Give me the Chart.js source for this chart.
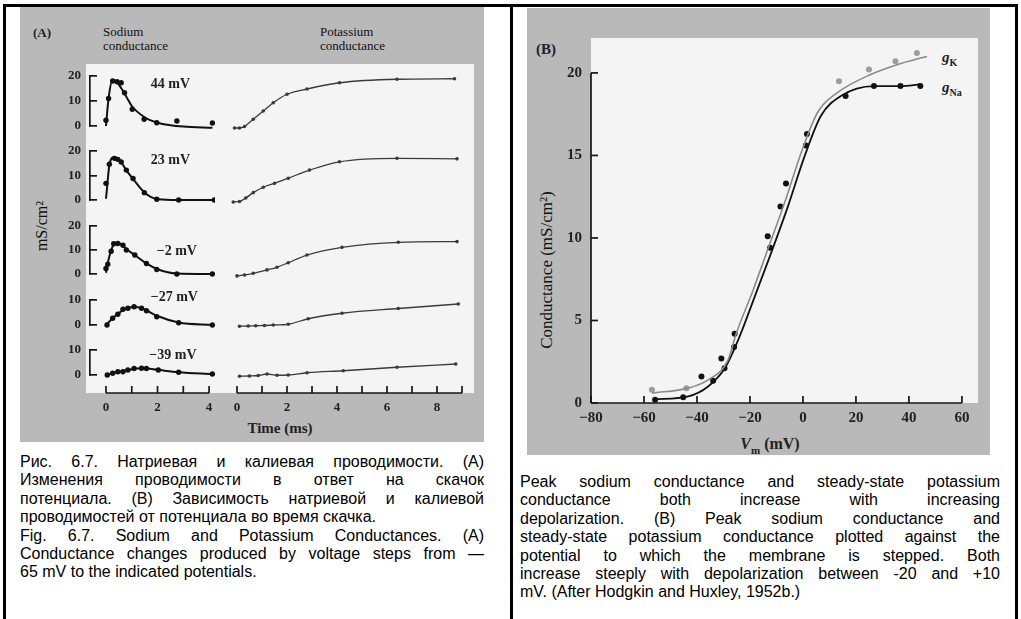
<!DOCTYPE html>
<html>
<head>
<meta charset="utf-8">
<script src="https://cdn.jsdelivr.net/npm/chart.js"></script>
<style>
    body { margin: 0; background: #fff; }
    #page { position: relative; width: 1021px; height: 619px; overflow: hidden; background: #fff; }
    .rule { position: absolute; background: #000; }
    .scan { position: absolute; background: #b9b9b9; }
    .plate { position: absolute; background: #f4f4f4; }
    .fig { position: absolute; font-family: "Liberation Serif", "DejaVu Serif", serif; color: #222; font-size: 13px; line-height: 14px; white-space: nowrap; font-weight: bold; }
    .rot { transform: translate(-50%, -50%) rotate(-90deg); }
    .mid { transform: translate(-50%, -50%); }
    .cap { position: absolute; font-family: "Liberation Sans", Arial, sans-serif; font-size: 16px; line-height: 18.4px; color: #000; }
    .cap div { white-space: nowrap; text-align: justify; text-align-last: justify; }
    .cap div.end { text-align-last: left; }
</style>
</head>
<body>
<div id="page">
    <div class="scan" style="left:20px;top:7px;width:464px;height:435px"></div>
    <div class="plate" style="left:86px;top:64px;width:388px;height:329px"></div>
    <div class="scan" style="left:527px;top:8px;width:463px;height:447px"></div>
    <div class="plate" style="left:591px;top:38px;width:387px;height:365px"></div>

    <div class="rule" style="left:3px;top:4px;width:1015px;height:3px"></div>
    <div class="rule" style="left:3px;top:4px;width:3px;height:615px"></div>
    <div class="rule" style="left:510px;top:4px;width:3px;height:615px"></div>
    <div class="rule" style="left:1015px;top:4px;width:3px;height:615px"></div>

    <div class="fig" style="left:33px;top:26px">(A)</div>
    <div class="fig" style="left:103px;top:25px;font-weight:normal;color:#111">Sodium<br>conductance</div>
    <div class="fig" style="left:320px;top:25px;font-weight:normal;color:#111">Potassium<br>conductance</div>
    <div class="fig rot" style="left:42px;top:226px;font-size:16px;font-weight:normal;color:#111">mS/cm²</div>
    <div class="fig mid" style="left:280px;top:428px;font-size:15px">Time (ms)</div>

    <div class="fig mid" style="left:546px;top:49px;font-size:15px">(B)</div>
    <div class="fig rot" style="left:547px;top:270px;font-size:17px;font-weight:normal;color:#111">Conductance (mS/cm²)</div>
    <div class="fig mid" style="left:770px;top:447px;font-size:16px"><i>V</i><sub style="font-size:11px">m</sub> (mV)</div>
    <div class="fig" style="left:942px;top:50px;font-size:15px"><i>g</i><sub style="font-size:10px">K</sub></div>
    <div class="fig" style="left:942px;top:80px;font-size:15px"><i>g</i><sub style="font-size:10px">Na</sub></div>

    <div class="cap" style="left:20px;top:453px;width:464px">
        <div>Рис. 6.7. Натриевая и калиевая проводимости. (A)</div>
        <div>Изменения проводимости в ответ на скачок</div>
        <div>потенциала. (B) Зависимость натриевой и калиевой</div>
        <div class="end">проводимостей от потенциала во время скачка.</div>
        <div>Fig. 6.7. Sodium and Potassium Conductances. (A)</div>
        <div>Conductance changes produced by voltage steps from —</div>
        <div class="end">65 mV to the indicated potentials.</div>
    </div>
    <div class="cap" style="left:520px;top:473px;width:480px">
        <div>Peak sodium conductance and steady-state potassium</div>
        <div>conductance both increase with increasing</div>
        <div>depolarization. (B) Peak sodium conductance and</div>
        <div>steady-state potassium conductance plotted against the</div>
        <div>potential to which the membrane is stepped. Both</div>
        <div>increase steeply with depolarization between -20 and +10</div>
        <div class="end">mV. (After Hodgkin and Huxley, 1952b.)</div>
    </div>
</div>
<script>
Chart.defaults.font.family = '"Liberation Serif", "DejaVu Serif", serif';
Chart.defaults.color = '#222';

// (A) sodium conductance after each voltage step: dots and the drawn curve, [time ms, mS/cm2]
const stepLabels = ['44 mV', '23 mV', '\u22122 mV', '\u221227 mV', '\u221239 mV'];
const stepLabelAt = [[2.5, 16.8], [2.5, 16.3], [2.75, 9.4], [2.65, 11.2], [2.6, 8]];

const na44Pts = [[0, 2.3], [0.1, 11], [0.26, 18], [0.43, 17.7], [0.59, 17.3], [0.72, 13.3], [1.02, 6.7], [1.48, 2.7], [1.97, 1.3], [2.75, 2.0], [4.13, 1.2]];
const na44Fit = [[0, 0], [0.1, 11], [0.25, 18.3], [0.4, 17.8], [0.6, 15], [0.8, 11.5], [1.0, 8], [1.5, 3.5], [2, 1.3], [2.5, 0.3], [3, -0.2], [4.13, -0.7]];
const na23Pts = [[0, 6.8], [0.13, 14.6], [0.33, 17], [0.46, 16.6], [0.59, 15.5], [0.79, 12.2], [1.05, 8.8], [1.49, 3.0], [1.97, 0.3], [2.82, 0], [4.2, 0]];
const na23Fit = [[0, 0.5], [0.05, 6], [0.13, 14.2], [0.3, 17.4], [0.45, 17], [0.6, 15.3], [0.8, 12], [1.05, 8.6], [1.5, 3], [2, 0.4], [2.8, 0], [4.2, 0]];
const naM2Pts = [[0, 2.3], [0.07, 4.1], [0.2, 9.5], [0.3, 12.6], [0.46, 12.7], [0.66, 12], [0.79, 10], [1.12, 7.9], [1.57, 4.4], [1.97, 1.9], [2.75, 0], [4.13, 0]];
const naM2Fit = [[0, 0.5], [0.1, 6], [0.22, 10.5], [0.35, 12.8], [0.55, 12.6], [0.8, 10.3], [1.1, 8], [1.55, 4.5], [2, 2], [2.75, 0.2], [4.13, 0]];
const naM27Pts = [[0.04, 0], [0.26, 2.7], [0.46, 4.3], [0.66, 6.3], [0.85, 6.7], [1.09, 7.3], [1.38, 6.7], [1.57, 5.7], [1.97, 3.3], [2.82, 0.9], [4.13, 0]];
const naM27Fit = [[0, 0], [0.26, 2.7], [0.5, 4.8], [0.75, 6.4], [1.05, 7.2], [1.38, 6.8], [1.6, 5.7], [2, 3.6], [2.82, 1.0], [4.13, 0]];
const naM39Pts = [[0.05, 0], [0.26, 0.7], [0.46, 1.3], [0.66, 1.3], [0.85, 2], [1.09, 2.6], [1.38, 2.7], [1.57, 2.6], [2.03, 2.0], [2.82, 1.1], [4.13, 0.4]];
const naM39Fit = [[0, 0], [0.3, 0.8], [0.6, 1.5], [0.9, 2.1], [1.2, 2.6], [1.5, 2.7], [2, 2.1], [2.82, 1.1], [4.13, 0.4]];

// (A) potassium conductance for the same steps
const k44 = [[-0.1, -0.8], [0.1, -0.8], [0.3, -0.2], [0.65, 2.7], [1.05, 6], [1.45, 9.3], [2.0, 12.7], [2.8, 14.8], [4.1, 17.3], [6.4, 18.7], [8.7, 18.9]];
const k23 = [[-0.15, -0.8], [0.1, -0.6], [0.35, 0.8], [0.65, 3], [1.05, 5.2], [1.5, 6.8], [2.05, 8.9], [2.9, 12.2], [4.1, 15.6], [6.4, 17], [8.8, 16.8]];
const kM2 = [[0, -0.8], [0.3, -0.4], [0.65, 0.3], [1.2, 1.7], [1.6, 2.8], [2.05, 4.7], [2.8, 7.9], [4.2, 11.1], [6.45, 13.2], [8.8, 13.5]];
const kM27 = [[0.1, -0.5], [0.45, -0.4], [0.75, -0.3], [1.1, -0.2], [1.45, 0], [2.05, 0.3], [2.85, 2.5], [4.2, 4.7], [6.45, 6.6], [8.85, 8.4]];
const kM39 = [[0.1, -0.5], [0.5, -0.4], [0.85, -0.2], [1.2, 0.4], [1.6, -0.1], [2.05, 0], [2.8, 0.9], [4.25, 1.7], [6.4, 3.1], [8.75, 4.4]];

const naTimeTicks = [0, 1, 2, 3, 4];
const naTimeLabels = [0, 2, 4];
const kTimeTicks = [0, 1, 2, 3, 4, 5, 6, 7, 8, 9];
const kTimeLabels = [0, 2, 4, 6, 8];
const rowTicks = [[0, 10, 20], [0, 10, 20], [0, 10, 20], [0, 10], [0, 10]];

// (B) peak gNa and steady-state gK against membrane potential, [mV, mS/cm2]
const vmTicks = [-80, -60, -40, -20, 0, 20, 40, 60];
const gTicks = [0, 5, 10, 15, 20];
const gNaPts = [[-55.8, 0.2], [-45.2, 0.35], [-38.3, 1.6], [-33.9, 1.35], [-30.8, 2.7], [-29.6, 2.1], [-25.8, 4.2], [-26, 3.4], [-13.3, 10.1], [-12.4, 9.4], [-8.5, 11.9], [-6.4, 13.3], [1.1, 15.6], [1.5, 16.3], [16.1, 18.6], [26.8, 19.2], [36.8, 19.2], [44.3, 19.2]];
const gNaFit = [[-56.4, 0.22], [-43.3, 0.4], [-35.8, 1.0], [-29.5, 2.1], [-24.5, 3.8], [-18.3, 6.4], [-12, 9.1], [-5.7, 11.9], [0.5, 14.9], [6.8, 17.4], [14.3, 18.6], [26.8, 19.2], [36.8, 19.2], [44.3, 19.3]];
const gKPts = [[-57, 0.8], [-44, 0.9], [13.6, 19.5], [24.9, 20.2], [34.9, 20.7], [43, 21.2]];
const gKFit = [[-57, 0.6], [-43.3, 0.9], [-35.8, 1.4], [-28.3, 2.6], [-25.2, 4.2], [-18.9, 6.8], [-13.3, 9.3], [-7, 12.1], [-0.8, 15.1], [5.5, 17.6], [13, 18.8], [25.5, 19.9], [35.5, 20.5], [46.8, 21]];

const naPts = [na44Pts, na23Pts, naM2Pts, naM27Pts, naM39Pts];
const naFits = [na44Fit, na23Fit, naM2Fit, naM27Fit, naM39Fit];
const kRows = [k44, k23, kM2, kM27, kM39];

// page layout of the five rows of panel A (pixels)
const rowEdges = [62, 137, 212, 288, 338, 393];
const rowZero = [126, 200, 274, 325, 375];
const rowPpu = [2.5, 2.45, 2.4, 2.5, 2.5];
const axisGap = rowEdges[5] - rowZero[4];   // bottom time axis sits below the last zero line

const page = document.getElementById('page');
const toXY = pairs => pairs.map(([x, y]) => ({ x, y }));
const tickFont = size => ({ size, weight: 'bold' });
const INK = '#161616';

// tick labels must not shrink the plot area
const noPad = s => {
    s.paddingTop = 0;
    s.paddingBottom = 0;
    s.paddingLeft = 0;
    s.paddingRight = 0;
};

// bottom axis line with upward ticks, optional y bracket, and the step label
const axisFrame = {
    id: 'axisFrame',
    afterDraw(chart) {
        const spec = chart.config.options.frame || {};
        const { ctx, chartArea } = chart;
        const len = 7;
        ctx.save();
        ctx.strokeStyle = INK;
        ctx.lineWidth = 1.7;
        if (spec.yTicks) {
            const s = chart.scales.y;
            const vals = spec.yTicks;
            ctx.beginPath();
            ctx.moveTo(s.right, s.getPixelForValue(vals[0]));
            ctx.lineTo(s.right, s.getPixelForValue(vals[vals.length - 1]));
            ctx.stroke();
            vals.forEach(v => {
                const p = s.getPixelForValue(v);
                ctx.beginPath();
                ctx.moveTo(s.right, p);
                ctx.lineTo(s.right + len, p);
                ctx.stroke();
            });
        }
        if (spec.xTicks) {
            const s = chart.scales.x;
            const y0 = chartArea.bottom + (spec.xDrop || 0);
            const vals = spec.xTicks;
            ctx.beginPath();
            ctx.moveTo(s.getPixelForValue(vals[0]), y0);
            ctx.lineTo(s.getPixelForValue(vals[vals.length - 1]), y0);
            ctx.stroke();
            vals.forEach(v => {
                const p = s.getPixelForValue(v);
                ctx.beginPath();
                ctx.moveTo(p, y0);
                ctx.lineTo(p, y0 - len);
                ctx.stroke();
            });
        }
        if (spec.tag) {
            ctx.font = 'bold 14px "Liberation Serif", serif';
            ctx.fillStyle = '#222';
            ctx.textAlign = 'center';
            ctx.textBaseline = 'middle';
            ctx.fillText(spec.tag, chart.scales.x.getPixelForValue(spec.tagAt[0]), chart.scales.y.getPixelForValue(spec.tagAt[1]));
        }
        ctx.restore();
    }
};

function makeCanvas(left, top, w, h) {
    const c = document.createElement('canvas');
    c.width = w;
    c.height = h;
    c.style.cssText = `position:absolute;left:${left}px;top:${top}px;width:${w}px;height:${h}px`;
    page.appendChild(c);
    return c;
}

function timeAxis(min, max, labels, show, boxHeight, pad) {
    return {
        type: 'linear', min, max, display: show,
        grid: { display: false, drawTicks: false },
        border: { display: false },
        afterBuildTicks: s => { s.ticks = labels.map(v => ({ value: v })); },
        afterFit: s => { noPad(s); if (show) s.height = boxHeight; },
        ticks: { padding: pad, font: tickFont(13) }
    };
}

function rowRange(i) {
    return {
        min: -(rowEdges[i + 1] - rowZero[i]) / rowPpu[i],
        max: (rowZero[i] - rowEdges[i]) / rowPpu[i]
    };
}

// sodium rows: the plot area spans exactly 0..top tick, so the axis border is the bracket
function sodiumRow(i) {
    const last = i === 4;
    const h = rowEdges[i + 1] - rowEdges[i] + (last ? 30 : 0);
    const cv = makeCanvas(58, rowEdges[i], 157, h);
    const topTick = rowTicks[i][rowTicks[i].length - 1];
    const padTop = rowZero[i] - rowEdges[i] - topTick * rowPpu[i];
    const padBottom = last ? 0 : rowEdges[i + 1] - rowZero[i];
    new Chart(cv, {
        type: 'line',
        data: {
            datasets: [
                { data: toXY(naFits[i]), borderColor: '#111', borderWidth: 2, pointRadius: 0, cubicInterpolationMode: 'monotone', clip: false },
                { data: toXY(naPts[i]), showLine: false, pointRadius: 2.7, pointBackgroundColor: '#111', pointBorderWidth: 0, clip: false }
            ]
        },
        options: {
            responsive: false,
            animation: false,
            layout: { autoPadding: false, padding: { top: padTop, bottom: padBottom, left: 0, right: 0 } },
            frame: { xTicks: last ? naTimeTicks : null, xDrop: last ? axisGap : 0, tag: stepLabels[i], tagAt: stepLabelAt[i] },
            plugins: { legend: { display: false }, tooltip: { enabled: false } },
            scales: {
                x: timeAxis(-0.62, 4.23, naTimeLabels, last, 30 + axisGap, 7 + axisGap),
                y: {
                    type: 'linear', min: 0, max: topTick,
                    grid: { display: true, drawOnChartArea: false, drawTicks: true, tickLength: -7, color: INK, lineWidth: 1.7 },
                    border: { display: true, color: INK, width: 1.7 },
                    afterBuildTicks: s => { s.ticks = rowTicks[i].map(v => ({ value: v })); },
                    afterFit: s => { noPad(s); s.width = 32; },
                    ticks: { padding: 16, font: tickFont(13) }
                }
            }
        },
        plugins: [axisFrame]
    });
}

function potassiumRow(i) {
    const last = i === 4;
    const h = rowEdges[i + 1] - rowEdges[i] + (last ? 30 : 0);
    const cv = makeCanvas(222, rowEdges[i], 250, h);
    const r = rowRange(i);
    new Chart(cv, {
        type: 'line',
        data: {
            datasets: [{
                data: toXY(kRows[i]), borderColor: '#3a3a3a', borderWidth: 1.3,
                pointRadius: 1.8, pointBackgroundColor: '#3a3a3a', pointBorderWidth: 0,
                cubicInterpolationMode: 'monotone', clip: false
            }]
        },
        options: {
            responsive: false,
            animation: false,
            layout: { autoPadding: false, padding: 0 },
            frame: { xTicks: last ? kTimeTicks : null },
            plugins: { legend: { display: false }, tooltip: { enabled: false } },
            scales: {
                x: timeAxis(-0.6, 9.4, kTimeLabels, last, 30, 7),
                y: { type: 'linear', min: r.min, max: r.max, display: false }
            }
        },
        plugins: [axisFrame]
    });
}

for (let i = 0; i < 5; i++) {
    sodiumRow(i);
    potassiumRow(i);
}

// panel B
new Chart(makeCanvas(520, 30, 470, 430), {
    type: 'line',
    data: {
        datasets: [
            { data: toXY(gKFit), borderColor: '#8a8a8a', borderWidth: 1.6, pointRadius: 0, cubicInterpolationMode: 'monotone', clip: false },
            { data: toXY(gNaFit), borderColor: '#111', borderWidth: 1.8, pointRadius: 0, cubicInterpolationMode: 'monotone', clip: false },
            { data: toXY(gKPts), showLine: false, pointRadius: 3, pointBackgroundColor: '#9c9c9c', pointBorderWidth: 0, clip: false },
            { data: toXY(gNaPts), showLine: false, pointRadius: 3, pointBackgroundColor: '#111', pointBorderWidth: 0, clip: false }
        ]
    },
    options: {
        responsive: false,
        animation: false,
        layout: { autoPadding: false, padding: 0 },
        frame: { xTicks: vmTicks, yTicks: gTicks },
        plugins: { legend: { display: false }, tooltip: { enabled: false } },
        scales: {
            x: {
                type: 'linear', min: -80, max: 70.6,
                grid: { display: false, drawTicks: false },
                border: { display: false },
                afterBuildTicks: s => { s.ticks = vmTicks.map(v => ({ value: v })); },
                afterFit: s => { noPad(s); s.height = 57; },
                ticks: { padding: 6, font: tickFont(15), callback: v => String(v).replace('-', '\u2212') }
            },
            y: {
                type: 'linear', min: 0, max: 22.6,
                grid: { display: false, drawTicks: false },
                border: { display: false },
                afterBuildTicks: s => { s.ticks = gTicks.map(v => ({ value: v })); },
                afterFit: s => { noPad(s); s.width = 71; },
                ticks: { padding: 9, font: tickFont(15) }
            }
        }
    },
    plugins: [axisFrame]
});
</script>
</body>
</html>
